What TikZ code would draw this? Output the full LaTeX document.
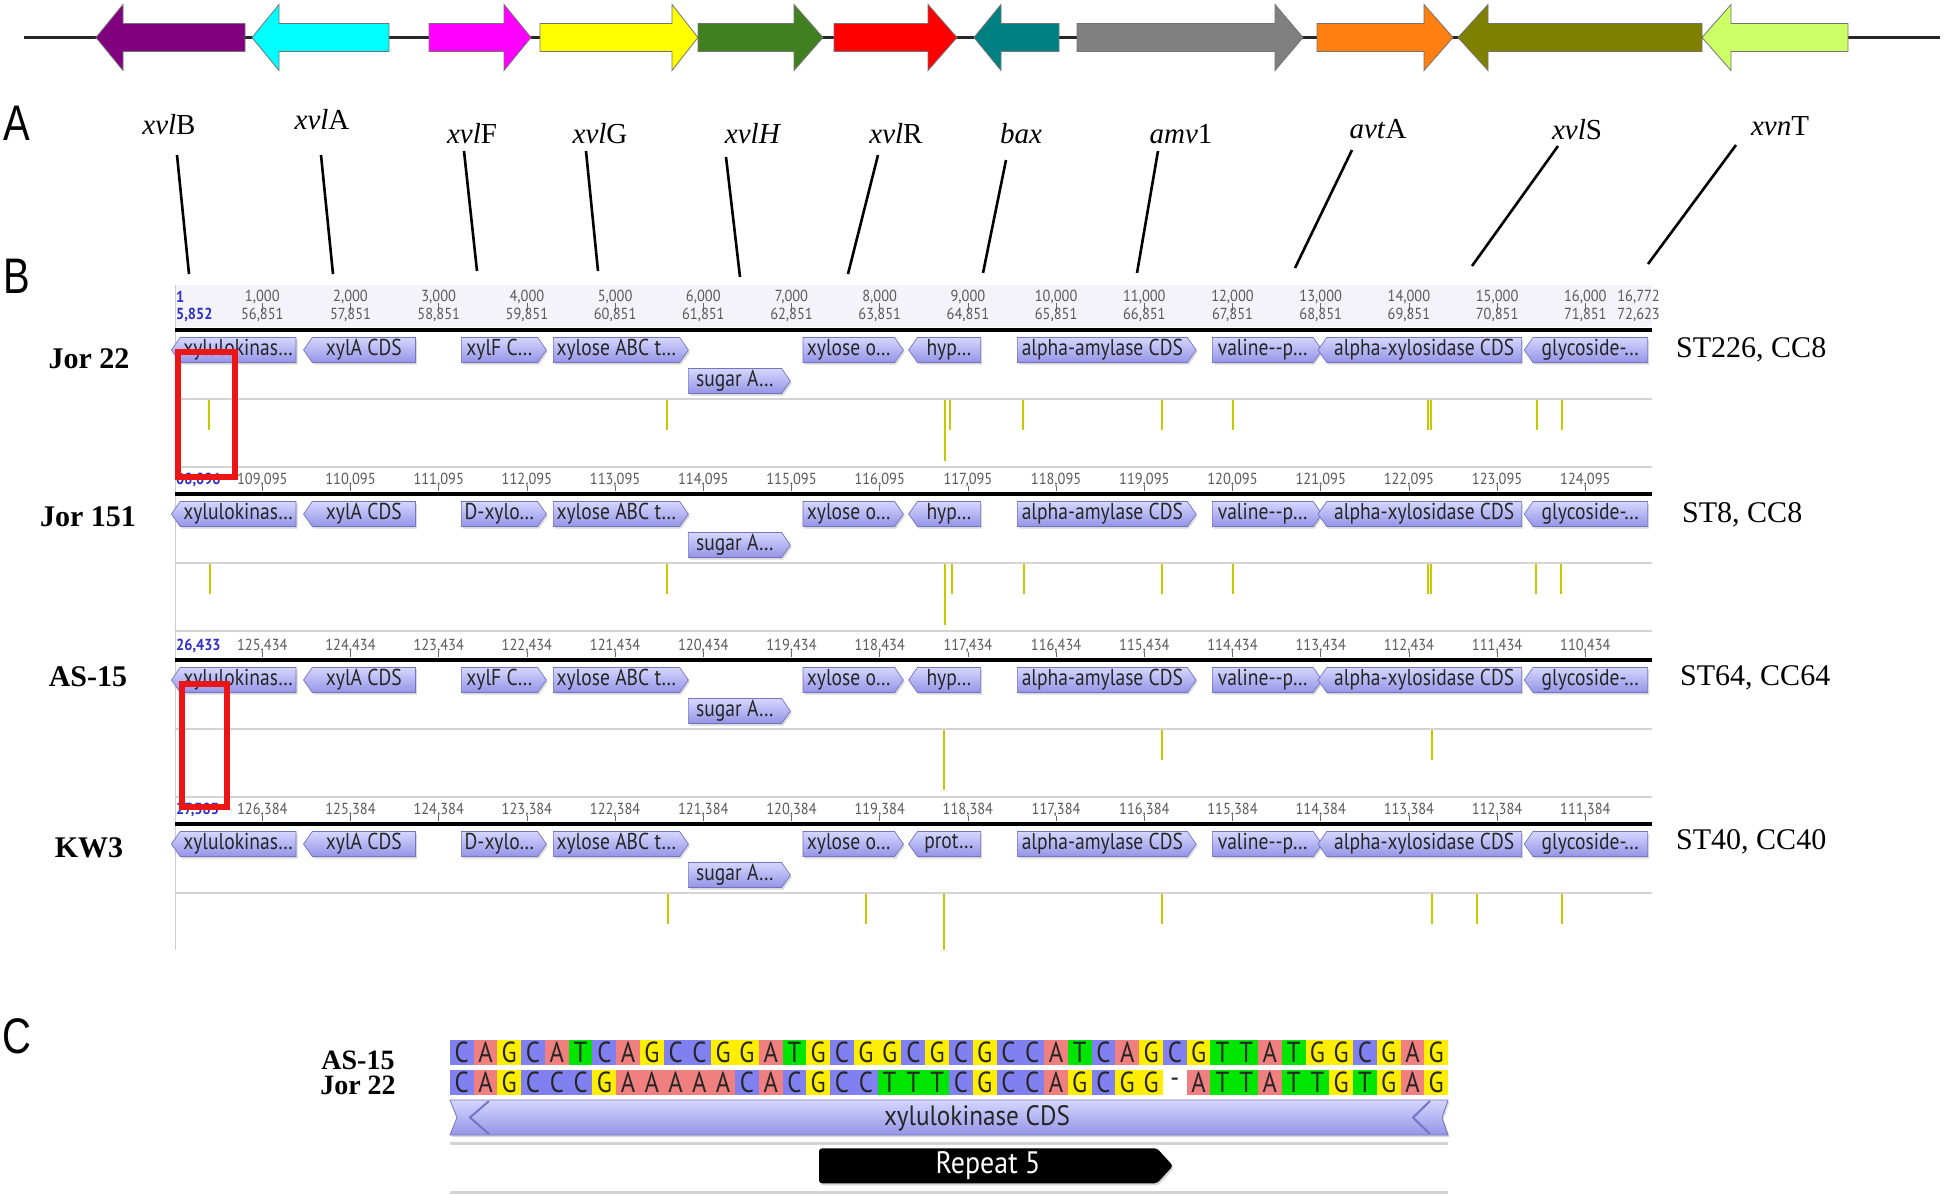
\documentclass[tikz,border=0pt]{standalone}
\usepackage{fontspec}
\setmainfont{Liberation Serif}
\newfontfamily\annfont[FakeStretch=0.9]{PT Sans}
\newfontfamily\featfont[FakeStretch=0.85]{PT Sans}
\newfontfamily\panelfont[FakeStretch=0.8]{Liberation Sans}
\usetikzlibrary{shapes.symbols, shadows}

\definecolor{genePurple}{HTML}{800080}
\definecolor{geneCyan}{HTML}{00FFFF}
\definecolor{geneMagenta}{HTML}{FF00FF}
\definecolor{geneYellow}{HTML}{FFFF00}
\definecolor{geneGreen}{HTML}{408020}
\definecolor{geneRed}{HTML}{FF0000}
\definecolor{geneTeal}{HTML}{008080}
\definecolor{geneGrey}{HTML}{808080}
\definecolor{geneOrange}{HTML}{FF8010}
\definecolor{geneOlive}{HTML}{808000}
\definecolor{geneLime}{HTML}{CCFF66}
\definecolor{featTop}{HTML}{D6D6FF}
\definecolor{featBot}{HTML}{9494E6}
\definecolor{featEdge}{HTML}{7474C4}
\definecolor{rulerBlue}{HTML}{2E2EC8}
\definecolor{rulerBand}{HTML}{F3F3F9}
\definecolor{snpYellow}{HTML}{C8C800}
\definecolor{boxRed}{HTML}{EC1515}
\definecolor{colA}{HTML}{F08080}
\definecolor{colC}{HTML}{8080F0}
\definecolor{colG}{HTML}{FFEE00}
\definecolor{colT}{HTML}{00E600}

\begin{document}
\begin{tikzpicture}[x=1pt, y=-1pt,
  gene/.style={draw=black!55, line width=0.8pt},
  genelab/.style={font=\fontsize{29}{30}\selectfont, inner sep=0pt},
  genelink/.style={line width=2.6pt},
  panel/.style={font=\panelfont\fontsize{50}{52}\selectfont, inner sep=0pt},
  strain/.style={font=\bfseries\fontsize{30}{32}\selectfont, inner sep=0pt},
  sttype/.style={font=\fontsize{30}{32}\selectfont, anchor=west, inner sep=0pt},
  feat/.style={signal, signal from=nowhere, signal pointer angle=110,
    draw=featEdge, line width=0.7pt, top color=featTop, bottom color=featBot,
    minimum height=25pt, inner sep=0pt, text=black!85,
    font=\featfont\fontsize{23}{24}\selectfont,
    drop shadow={shadow xshift=1.5pt, shadow yshift=-2pt, opacity=0.3}},
  rulernum/.style={font=\annfont\fontsize{16}{17}\selectfont, text=black!65, inner sep=0pt},
  rulerstart/.style={rulernum, font=\annfont\bfseries\fontsize{16}{17}\selectfont,
    text=rulerBlue, anchor=west},
  rulertick/.style={draw=black!60, line width=0.8pt},
  seqline/.style={draw=black, line width=3.5pt},
  gridline/.style={draw=black!17, line width=2.5pt},
  snp/.style={draw=snpYellow, line width=1.6pt},
  hilite/.style={draw=boxRed, line width=6pt},
  nuc/.style={minimum width=23.77pt, minimum height=25pt, inner sep=0pt,
    font=\featfont\fontsize{29}{29}\selectfont, text=black!85},
  nucA/.style={nuc, fill=colA}, nucC/.style={nuc, fill=colC},
  nucG/.style={nuc, fill=colG}, nucT/.style={nuc, fill=colT},
  nuc-/.style={nuc, fill=white},
  repeatbox/.style={signal, signal to=east, signal from=nowhere, signal pointer angle=95,
    fill=black, rounded corners=3pt, minimum width=354pt, minimum height=35pt,
    inner sep=0pt, text=white, font=\annfont\fontsize{31}{31}\selectfont,
    drop shadow={shadow xshift=1.5pt, shadow yshift=-2pt, opacity=0.3}}]

\fill[white] (0,0) rectangle (1945,1194);
\useasboundingbox (0,0) rectangle (1945,1194);

% gene cluster
\coordinate (axis-l) at (24,37.5);
\coordinate (axis-r) at (1940,37.5);
\draw[line width=3pt, black!85] (axis-l) -- (axis-r);
\foreach \t/\h/\e/\col in {96/123/245/genePurple, 252/279/389/geneCyan,
    531/504/429/geneMagenta, 698/672/540/geneYellow, 823/794/698/geneGreen,
    957/928/834/geneRed, 974/1001/1059/geneTeal, 1303/1275/1077/geneGrey,
    1453/1424/1317/geneOrange, 1458/1488/1702/geneOlive, 1702/1731/1848/geneLime}
  \path[gene, fill=\col] (\e,23.5) -- (\h,23.5) -- (\h,4.5) -- (\t,37.5)
    -- (\h,70.5) -- (\h,51.5) -- (\e,51.5) -- cycle;

\node[panel] (pA) at (17,123) {A};
\node[panel] (pB) at (17,276) {B};
\node[panel] (pC) at (17,1036) {C};

\node[genelab] (lab-xvlB) at (169,125) {\textit{xvl}B};
\node[genelab] (lab-xvlA) at (322,120) {\textit{xvl}A};
\node[genelab] (lab-xvlF) at (472,134) {\textit{xvl}F};
\node[genelab] (lab-xvlG) at (600,134) {\textit{xvl}G};
\node[genelab] (lab-xvlH) at (753,134) {\textit{xvlH}};
\node[genelab] (lab-xvlR) at (896,134) {\textit{xvl}R};
\node[genelab] (lab-bax) at (1021,134) {\textit{bax}};
\node[genelab] (lab-amv1) at (1181,134) {\textit{amv}1};
\node[genelab] (lab-avtA) at (1378,129) {\textit{avt}A};
\node[genelab] (lab-xvlS) at (1577,130) {\textit{xvl}S};
\node[genelab] (lab-xvnT) at (1780,126) {\textit{xvn}T};

\foreach \g/\ax/\ay/\bx/\by in {xvlB/177/155/189/274, xvlA/321/155/333/274,
    xvlF/464/151/477/271, xvlG/586/151/598/271, xvlH/726/157/740/277,
    xvlR/878/155/848/274, bax/1006/160/983/273, amv1/1158/151/1137/273,
    avtA/1352/150/1295/268, xvlS/1558/146/1472/266, xvnT/1736/145/1648/264}{
  \coordinate (\g-top) at (\ax,\ay);
  \coordinate (\g-bot) at (\bx,\by);
  \draw[genelink] (\g-top) -- (\g-bot);
}

% alignment tracks
\fill[rulerBand] (175.4,285) rectangle (1652,327);
\draw[black!20, line width=1.5pt] (175.4,285) -- (175.4,950);
\node[rulerstart] (r1-first) at (176,297) {1};
\node[rulerstart] (r1-firstb) at (176,315) {5,852};
\foreach \k in {0,...,15}{
  \draw[rulertick] ({262.3+88.2*\k},303) -- ++(0,8);
  \node[rulernum] (r1-\k) at ({262.3+88.2*\k},297) {\the\numexpr\k+1\relax,000};
  \node[rulernum] (r1b-\k) at ({262.3+88.2*\k},315) {\the\numexpr\k+56\relax,851};
}
\node[rulernum, anchor=east] (r1-end) at (1660,297) {16,772};
\node[rulernum, anchor=east] (r1b-end) at (1660,315) {72,623};

\foreach \L/\first/\base/\sgn/\tail [count=\t from 2] in
    {494/{08,096}/109/+/095, 660/{26,433}/125/-/434, 824/{27,383}/126/-/384}{
  \node[rulerstart] (r\t-first) at (176,\L-14) {\first};
  \foreach \k in {0,...,15}{
    \draw[rulertick] ({262.3+88.2*\k},\L-8) -- ++(0,5);
    \node[rulernum] (r\t-\k) at ({262.3+88.2*\k},\L-14) {\the\numexpr\base\sgn\k\relax,\tail};
  }
}

\foreach \L in {330,494,660}
  \draw[gridline] (175.4,\L+137) -- (1652,\L+137);

\foreach \L/\xf/\hy [count=\t] in {330/xylF C…/hyp…, 494/D-xylo…/hyp…,
    660/xylF C…/hyp…, 824/D-xylo…/prot…}{
  \draw[seqline] (175.4,\L) -- (1652,\L);
  \draw[gridline] (175.4,\L+69) -- (1652,\L+69);
  \foreach \a/\b/\dir/\txt [count=\j] in {175.8/300.4/west/xylulokinas…,
      307.9/419.8/west/xylA CDS, 457/542/east/\xf, 549/684/east/xylose ABC t…,
      798.6/899/east/xylose o…, 913/985/west/\hy, 1013/1191.7/east/alpha-amylase CDS,
      1208/1317.6/east/valine-{}-p…, 1322.4/1526/west/alpha-xylosidase CDS,
      1528.6/1652/west/glycoside-…}
    \node[feat, signal to=\dir, minimum width={(\b-\a)*1pt}] (f\t-\j) at ({(\a+\b)/2},\L+20) {\txt};
  \node[feat, signal to=east, minimum width=102pt] (sugar\t) at (735,\L+51) {sugar A…};
}

\foreach \x in {209,667,950,1023,1162,1233,1428,1431,1537,1562}
  \draw[snp] (\x,400) -- (\x,430);
\draw[snp] (945,400) -- (945,461);
\foreach \x in {210,667,952,1024,1162,1233,1428,1431,1536,1561}
  \draw[snp] (\x,564) -- (\x,594);
\draw[snp] (945,564) -- (945,625);
\foreach \x in {1162,1432}
  \draw[snp] (\x,730) -- (\x,760);
\draw[snp] (944,730) -- (944,790);
\foreach \x in {668,866,1162,1432,1477,1562}
  \draw[snp] (\x,894) -- (\x,924);
\draw[snp] (944,894) -- (944,950);

\draw[hilite] (177.7,351.7) rectangle (234.8,476.7);
\draw[hilite] (182,684) rectangle (226.8,806.7);

\node[strain] (s-jor22) at (89,358.5) {Jor 22};
\node[strain] (s-jor151) at (88,517) {Jor 151};
\node[strain] (s-as15) at (88,677) {AS-15};
\node[strain] (s-kw3) at (89,848) {KW3};
\node[sttype] (st-jor22) at (1676,350) {ST226, CC8};
\node[sttype] (st-jor151) at (1682,515) {ST8, CC8};
\node[sttype] (st-as15) at (1680,678) {ST64, CC64};
\node[sttype] (st-kw3) at (1676,842) {ST40, CC40};

% repeat region
\node[strain, font=\bfseries\fontsize{28}{30}\selectfont] (c-as15) at (358,1060) {AS-15};
\node[strain, font=\bfseries\fontsize{28}{30}\selectfont] (c-jor22) at (358,1085) {Jor 22};
\foreach \c [count=\i from 0] in {C,A,G,C,A,T,C,A,G,C,C,G,G,A,T,G,C,G,G,C,G,C,G,C,C,A,T,C,A,G,C,G,T,T,A,T,G,G,C,G,A,G}
  \node[nuc\c] (a\i) at ({461.7+23.77*\i},1052.5) {\c};
\foreach \c [count=\i from 0] in {C,A,G,C,C,C,G,A,A,A,A,A,C,A,C,G,C,C,T,T,T,C,G,C,C,A,G,C,G,G,-,A,T,T,A,T,T,G,T,G,A,G}
  \node[nuc\c] (b\i) at ({461.7+23.77*\i},1082.5) {\c};

\path[draw=featEdge, line width=0.8pt, top color=featTop, bottom color=featBot,
    drop shadow={shadow xshift=1.5pt, shadow yshift=-2pt, opacity=0.3}]
  (450,1100) -- (1448,1100) -- (1442,1117.5) -- (1448,1135) -- (450,1135)
  -- (457,1117.5) -- cycle;
\draw[featEdge, line width=2pt] (489,1101) -- (470,1117.5) -- (489,1134);
\draw[featEdge, line width=2pt] (1430,1101) -- (1413,1117.5) -- (1430,1134);
\node[font=\annfont\fontsize{28}{28}\selectfont, text=black!85, inner sep=0pt] (cds) at (977,1118) {xylulokinase CDS};
\draw[gridline] (450,1143.3) -- (1448,1143.3);
\node[repeatbox] (rep5) at (988,1165.8) {Repeat 5};
\draw[gridline] (450,1192.5) -- (1448,1192.5);
\end{tikzpicture}
\end{document}
